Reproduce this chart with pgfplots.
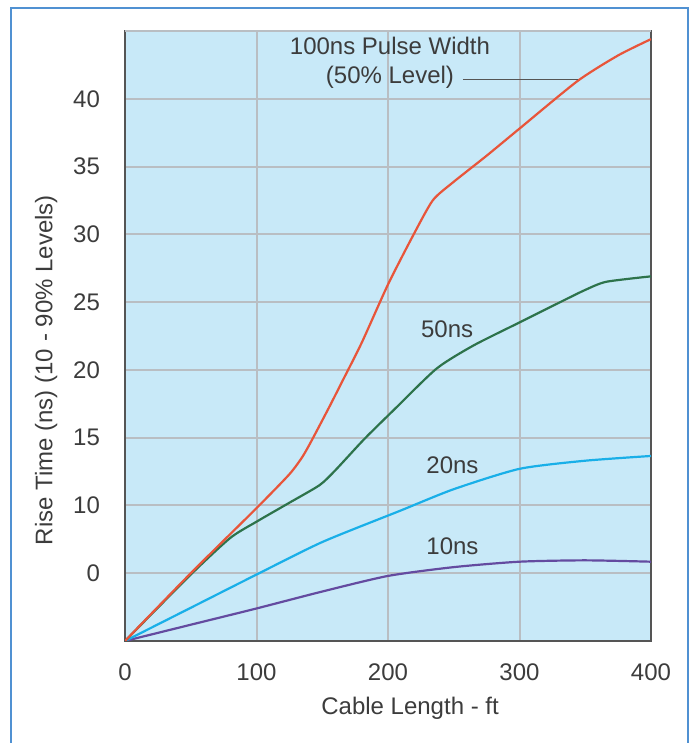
\documentclass[border=0pt]{standalone}
\usepackage{fontspec}
\setmainfont{Liberation Sans}
\usepackage{pgfplots}
\pgfplotsset{compat=1.18}
\definecolor{bgblue}{RGB}{200,233,248}
\definecolor{framegray}{RGB}{85,85,85}
\definecolor{gridgray}{RGB}{185,190,195}
\definecolor{outerblue}{RGB}{80,145,210}
\definecolor{cred}{RGB}{232,85,58}
\definecolor{cgreen}{RGB}{45,115,75}
\definecolor{cblue}{RGB}{25,175,232}
\definecolor{cpurple}{RGB}{100,75,160}
\definecolor{txt}{RGB}{60,60,60}
\begin{document}
\begin{tikzpicture}
\path[use as bounding box] (0,0) rectangle (345pt,371.5pt);
\draw[outerblue, line width=1.3pt] (5.5pt,-2pt) -- (5.5pt,367.5pt) -- (344pt,367.5pt) -- (344pt,-2pt);
\begin{axis}[
  at={(62.5pt,51pt)}, anchor=south west,
  scale only axis, width=263pt, height=305pt,
  xmin=0, xmax=400, ymin=0, ymax=45,
  xtick={0,100,200,300,400},
  ytick={5,10,15,20,25,30,35,40},
  yticklabels={0,10,15,20,25,30,35,40},
  extra y ticks={45}, extra y tick labels={},
  major tick length=0pt,
  grid=major,
  major grid style={gridgray, line width=1pt},
  axis background/.style={fill=bgblue},
  axis line style={framegray, line width=1.4pt},
  /pgf/number format/assume math mode=true,
  tick label style={font=\fontsize{12}{14}\selectfont, text=txt},
  xticklabel shift=8pt,
  yticklabel shift=9pt,
  label style={font=\fontsize{12}{14}\selectfont, text=txt},
  xlabel={Cable Length - ft},
  ylabel={Rise Time (ns) (10 - 90\% Levels)},
  xlabel style={at={(axis description cs:0.542,-0.11)}, anchor=center},
  ylabel style={at={(axis description cs:-0.15,0.444)}, anchor=center, rotate=0},
  every axis plot/.append style={line width=1.1pt, smooth, tension=0.4},
]
\addplot[cpurple] coordinates {(0,0) (50,1.2) (100,2.4) (150,3.65) (200,4.8) (250,5.45) (300,5.85) (350,5.95) (400,5.85)};
\addplot[cblue] coordinates {(0,0) (50,2.45) (100,4.9) (150,7.3) (209,9.6) (250,11.2) (300,12.7) (350,13.3) (400,13.65)};
\addplot[cgreen] coordinates {(0,0) (50,4.9) (80,7.6) (100,8.8) (125,10.2) (148,11.5) (160,12.6) (182,14.9) (205,17.1) (237,20.1) (265,21.8) (300,23.5) (331,25) (350,25.9) (366,26.5) (400,26.9)};
\addplot[cred] coordinates {(0,0) (50,5) (100,9.8) (125,12.3) (135,13.6) (142,14.8) (155,17.2) (166,19.3) (180,22) (200,26.3) (219,29.9) (234,32.5) (249,33.8) (275,35.8) (300,37.8) (344,41.3) (375,43.2) (400,44.4)};
\draw[framegray, line width=0.7pt] (axis cs:257,41.4) -- (axis cs:344.5,41.4);
\node[txt, font=\fontsize{12}{14}\selectfont] at (axis cs:201.5,43.9) {100ns Pulse Width};
\node[txt, font=\fontsize{12}{14}\selectfont] at (axis cs:201.5,41.6) {(50\% Level)};
\node[txt, font=\fontsize{12}{14}\selectfont] at (axis cs:245,23.0) {50ns};
\node[txt, font=\fontsize{12}{14}\selectfont] at (axis cs:249,13.0) {20ns};
\node[txt, font=\fontsize{12}{14}\selectfont] at (axis cs:249,7.0) {10ns};
\end{axis}
\end{tikzpicture}
\end{document}
